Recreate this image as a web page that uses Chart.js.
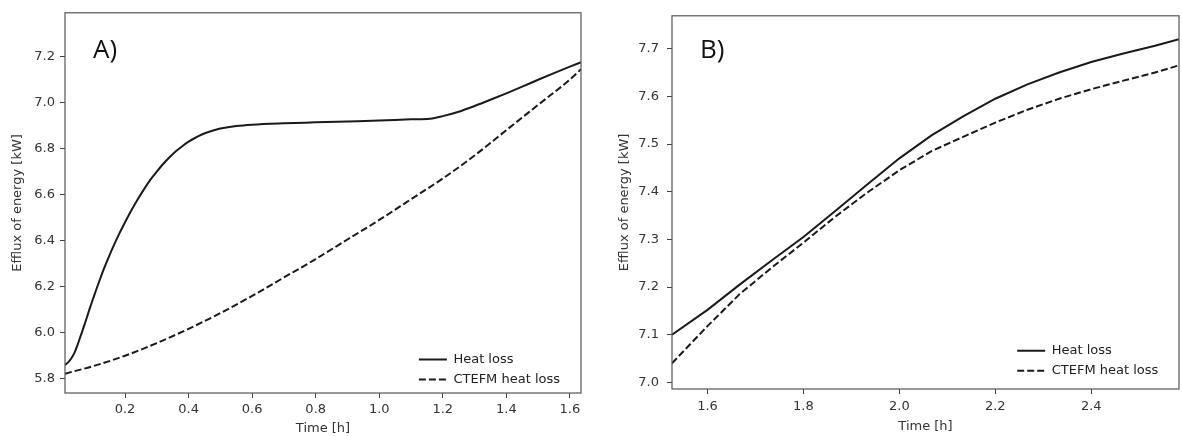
<!DOCTYPE html>
<html>
<head>
<meta charset="utf-8">
<script src="https://cdn.jsdelivr.net/npm/chart.js@4"></script>
<style>
  body { margin: 0; background: #fff; width: 1182px; height: 436px; overflow: hidden; position: relative; }
  .panel { position: absolute; top: 0; height: 436px; }
  #panelA { left: 0; width: 590px; }
  #panelB { left: 590px; width: 592px; }
  .tag { position: absolute; font-family: "Open Sans", sans-serif; font-size: 26px; line-height: 26px; color: #111; }
</style>
</head>
<body>
<div class="panel" id="panelA"><canvas id="chartA"></canvas></div>
<div class="panel" id="panelB"><canvas id="chartB"></canvas></div>
<div class="tag" style="left:93px; top:35px;">A)</div>
<div class="tag" style="left:700px; top:35px;">B)</div>
<script>
// --- datos ---
const seriesNames = ['Heat loss', 'CTEFM heat loss'];

// panel A
const timeA = [0.011, 0.02, 0.03, 0.04, 0.05, 0.06, 0.07, 0.08, 0.09, 0.1, 0.11, 0.12, 0.13, 0.14, 0.15, 0.16, 0.18, 0.2, 0.22, 0.24, 0.26, 0.28, 0.3, 0.32, 0.34, 0.36, 0.38, 0.4, 0.42, 0.44, 0.46, 0.48, 0.5, 0.55, 0.6, 0.7, 0.8, 0.9, 1.0, 1.1, 1.16, 1.2, 1.25, 1.3, 1.35, 1.4, 1.45, 1.5, 1.55, 1.6, 1.635];
const heatA = [5.86, 5.87, 5.887, 5.91, 5.945, 5.985, 6.025, 6.067, 6.11, 6.15, 6.19, 6.228, 6.265, 6.30, 6.333, 6.365, 6.425, 6.48, 6.532, 6.58, 6.624, 6.665, 6.70, 6.733, 6.762, 6.788, 6.81, 6.83, 6.846, 6.86, 6.871, 6.88, 6.887, 6.898, 6.904, 6.91, 6.914, 6.918, 6.922, 6.927, 6.930, 6.941, 6.96, 6.985, 7.012, 7.04, 7.069, 7.099, 7.128, 7.156, 7.175];
const timeCtefmA = [0.011, 0.1, 0.2, 0.3, 0.4, 0.5, 0.6, 0.7, 0.8, 0.9, 1.0, 1.1, 1.2, 1.3, 1.4, 1.5, 1.6, 1.635];
const ctefmA = [5.822, 5.855, 5.90, 5.955, 6.017, 6.085, 6.16, 6.24, 6.32, 6.405, 6.49, 6.58, 6.67, 6.77, 6.88, 6.99, 7.10, 7.145];
const xTicksA = [0.2, 0.4, 0.6, 0.8, 1.0, 1.2, 1.4, 1.6];
const yTicksA = [5.8, 6.0, 6.2, 6.4, 6.6, 6.8, 7.0, 7.2];

// panel B
const timeB = [1.526, 1.6, 1.667, 1.733, 1.8, 1.867, 1.933, 2.0, 2.067, 2.133, 2.2, 2.267, 2.333, 2.4, 2.467, 2.533, 2.583];
const heatB = [7.100, 7.152, 7.205, 7.255, 7.305, 7.360, 7.415, 7.470, 7.518, 7.558, 7.595, 7.625, 7.650, 7.672, 7.690, 7.706, 7.720];
const ctefmB = [7.040, 7.118, 7.185, 7.240, 7.293, 7.348, 7.398, 7.445, 7.485, 7.515, 7.545, 7.572, 7.595, 7.615, 7.633, 7.650, 7.665];
const xTicksB = [1.6, 1.8, 2.0, 2.2, 2.4];
const yTicksB = [7.0, 7.1, 7.2, 7.3, 7.4, 7.5, 7.6, 7.7];

Chart.defaults.font.family = '"DejaVu Sans", sans-serif';
Chart.defaults.font.size = 13;
Chart.defaults.color = '#333';

const pts = (xs, ys) => xs.map((x, i) => ({ x: x, y: ys[i] }));

// marco completo del area (como matplotlib)
const frame = {
    id: 'frame',
    afterDraw(chart) {
        const { ctx, chartArea: a } = chart;
        ctx.save();
        ctx.strokeStyle = '#555';
        ctx.lineWidth = 1.2;
        ctx.strokeRect(a.left, a.top, a.right - a.left, a.bottom - a.top);
        ctx.restore();
    }
};

// mover la leyenda a la esquina inferior derecha
const legendCorner = {
    id: 'legendCorner',
    afterLayout(chart, args, opts) {
        const lg = chart.legend, a = chart.chartArea;
        if (!lg) return;
        lg.left = a.right - opts.right - lg.width;
        lg.right = lg.left + lg.width;
        lg.bottom = a.bottom - opts.bottom;
    }
};

function makeChart(id, cfg) {
    const lineStyle = { borderColor: '#1a1a1a', borderWidth: 2, pointRadius: 0, fill: false };
    const interp = cfg.smooth ? 'monotone' : 'default';
    return new Chart(document.getElementById(id), {
        type: 'line',
        data: {
            datasets: [
                { label: seriesNames[0], data: cfg.solid, ...lineStyle, cubicInterpolationMode: interp, tension: 0 },
                { label: seriesNames[1], data: cfg.dashed, ...lineStyle, borderDash: [7, 3], cubicInterpolationMode: interp, tension: 0 }
            ]
        },
        options: {
            responsive: true,
            maintainAspectRatio: false,
            animation: false,
            layout: { padding: cfg.padding },
            plugins: {
                legend: {
                    position: 'chartArea',
                    align: 'end',
                    labels: {
                        usePointStyle: true, pointStyle: 'line', pointStyleWidth: 28, padding: 7, color: '#222',
                        generateLabels: chart => Chart.defaults.plugins.legend.labels.generateLabels(chart).map(item => ({
                            ...item,
                            lineDash: chart.data.datasets[item.datasetIndex].borderDash || [],
                            lineWidth: 2,
                            strokeStyle: '#1a1a1a'
                        }))
                    }
                },
                tooltip: { enabled: false },
                legendCorner: cfg.legend
            },
            scales: {
                x: {
                    type: 'linear',
                    min: cfg.xMin, max: cfg.xMax,
                    afterBuildTicks: s => { s.ticks = cfg.xTicks.map(v => ({ value: v })); },
                    afterFit: s => { s.height = cfg.xHeight; },
                    ticks: { padding: cfg.xPad, maxRotation: 0, callback: v => v.toFixed(1) },
                    grid: { drawOnChartArea: false, tickLength: 5, color: '#444' },
                    border: { display: false },
                    title: { display: true, text: 'Time [h]', color: '#333', padding: { top: 0, bottom: cfg.xTitlePad } }
                },
                y: {
                    type: 'linear',
                    min: cfg.yMin, max: cfg.yMax,
                    afterBuildTicks: s => { s.ticks = cfg.yTicks.map(v => ({ value: v })); },
                    afterFit: s => { s.width = cfg.yWidth; },
                    ticks: { padding: cfg.yPad, callback: v => v.toFixed(1) },
                    grid: { drawOnChartArea: false, tickLength: 5, color: '#444' },
                    border: { display: false },
                    title: { display: true, text: 'Efflux of energy [kW]', color: '#333', padding: { top: cfg.yTitlePad, bottom: 0 } }
                }
            }
        },
        plugins: [frame, legendCorner]
    });
}

makeChart('chartA', {
    solid: pts(timeA, heatA),
    dashed: pts(timeCtefmA, ctefmA),
    smooth: true,
    xMin: 0.011, xMax: 1.635, yMin: 5.738, yMax: 7.39,
    xTicks: xTicksA, yTicks: yTicksA,
    padding: { top: 9, right: 9, left: 0, bottom: 0 },
    xHeight: 43, yWidth: 65,
    xPad: 4, yPad: 5, xTitlePad: 0, yTitlePad: 10,
    legend: { right: 11, bottom: 0 }
});

makeChart('chartB', {
    solid: pts(timeB, heatB),
    dashed: pts(timeB, ctefmB),
    smooth: false,
    xMin: 1.526, xMax: 2.583, yMin: 6.986, yMax: 7.769,
    xTicks: xTicksB, yTicks: yTicksB,
    padding: { top: 11, right: 3, left: 0, bottom: 0 },
    xHeight: 47, yWidth: 82,
    xPad: 5, yPad: 8, xTitlePad: 1.5, yTitlePad: 27,
    legend: { right: 10.7, bottom: 4.8 }
});
</script>
</body>
</html>
